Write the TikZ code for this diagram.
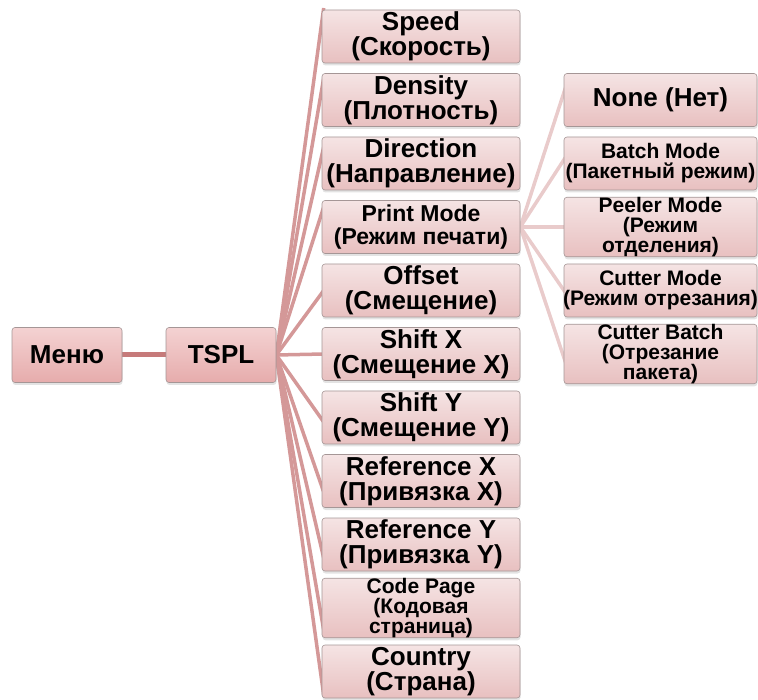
\documentclass[tikz,border=0pt]{standalone}
\usepackage{fontspec}
\setmainfont{Liberation Sans}
\usetikzlibrary{shadows,calc}
\pgfdeclarelayer{bg}
\pgfsetlayers{bg,main}
\definecolor{edgeA}{RGB}{198,122,122}
\definecolor{edgeB}{RGB}{212,152,152}
\definecolor{edgeC}{RGB}{233,203,203}
\definecolor{boxtop}{RGB}{245,228,228}
\definecolor{boxbot}{RGB}{232,192,192}
\definecolor{menutop}{RGB}{244,210,210}
\definecolor{menubot}{RGB}{230,172,172}
\definecolor{boxline}{RGB}{165,150,150}
\newcommand{\ml}[1]{\makebox[0pt]{#1}}
\newcommand{\fbig}{\fontsize{26}{25}\selectfont\bfseries}
\newcommand{\fmid}{\fontsize{23}{23}\selectfont\bfseries}
\newcommand{\fsml}{\fontsize{21}{20}\selectfont\bfseries}
\begin{document}
\begin{tikzpicture}[x=1pt,y=-1pt,
  box/.style={draw=boxline, line width=0.6pt, rounded corners=3pt,
    top color=boxtop, bottom color=boxbot, minimum height=53pt,
    inner sep=0pt, align=center,
    drop shadow={opacity=0.22,shadow xshift=0.5pt,shadow yshift=-2.5pt}},
  rootbox/.style={box, top color=menutop, bottom color=menubot, minimum width=110pt, minimum height=55pt},
  midbox/.style={box, minimum width=198pt},
  rightbox/.style={box, minimum width=193pt},
  link/.style={draw=edgeA, line width=5pt},
  fan/.style={draw=edgeB, line width=3.5pt},
  subfan/.style={draw=edgeC, line width=3.5pt}]
\useasboundingbox (0,0) rectangle (758,700);

\node[rootbox,font=\fbig] (menu) at (67,355) {Меню};
\node[rootbox,font=\fbig] (tspl) at (221,355) {TSPL};

\node[midbox,font=\fbig] (speed) at (421,36.5) {\ml{Speed}\\\ml{(Скорость)}};
\node[midbox,font=\fbig] (density) at (421,100) {\ml{Density}\\\ml{(Плотность)}};
\node[midbox,font=\fbig] (direction) at (421,163.5) {\ml{Direction}\\\ml{(Направление)}};
\node[midbox,font=\fmid] (printmode) at (421,227) {\ml{Print Mode}\\\ml{(Режим печати)}};
\node[midbox,font=\fbig] (offset) at (421,290.5) {\ml{Offset}\\\ml{(Смещение)}};
\node[midbox,font=\fbig] (shiftx) at (421,354) {\ml{Shift X}\\\ml{(Смещение X)}};
\node[midbox,font=\fbig] (shifty) at (421,417.5) {\ml{Shift Y}\\\ml{(Смещение Y)}};
\node[midbox,font=\fbig] (refx) at (421,481) {\ml{Reference X}\\\ml{(Привязка X)}};
\node[midbox,font=\fbig] (refy) at (421,544.5) {\ml{Reference Y}\\\ml{(Привязка Y)}};
\node[midbox,font=\fsml] (codepage) at (421,608) {\ml{Code Page}\\\ml{(Кодовая}\\\ml{страница)}};
\node[midbox,font=\fbig] (country) at (421,671.5) {\ml{Country}\\\ml{(Страна)}};

\node[rightbox,font=\fbig] (none) at (660.5,100) {\ml{None (Нет)}};
\node[rightbox,font=\fsml] (batch) at (660.5,163.5) {\ml{Batch Mode}\\\ml{(Пакетный режим)}};
\node[rightbox,font=\fsml] (peeler) at (660.5,227) {\ml{Peeler Mode}\\\ml{(Режим}\\\ml{отделения)}};
\node[rightbox,font=\fsml] (cuttermode) at (660.5,290.5) {\ml{Cutter Mode}\\\ml{(Режим отрезания)}};
\node[rightbox,font=\fsml] (cutterbatch) at (660.5,354) {\ml{Cutter Batch}\\\ml{(Отрезание}\\\ml{пакета)}};

\begin{pgfonlayer}{bg}
\draw[link] (menu.east) -- (tspl.west);
\draw[fan] (tspl.east) -- ($(speed.west)+(2,-28.5)$);
\draw[fan] (tspl.east) -- ($(density.west)+(2,-22)$);
\draw[fan] (tspl.east) -- ($(direction.west)+(2,-16.5)$);
\draw[fan] (tspl.east) -- ($(printmode.west)+(2,-20)$);
\draw[fan] (tspl.east) -- ($(offset.west)+(2,0)$);
\draw[fan] (tspl.east) -- ($(shiftx.west)+(2,0)$);
\draw[fan] (tspl.east) -- ($(shifty.west)+(2,4.5)$);
\draw[fan] (tspl.east) -- ($(refx.west)+(2,11)$);
\draw[fan] (tspl.east) -- ($(refy.west)+(2,13.5)$);
\draw[fan] (tspl.east) -- ($(codepage.west)+(2,22)$);
\draw[fan] (tspl.east) -- ($(country.west)+(2,23.5)$);
\draw[subfan] (printmode.east) -- ($(none.west)+(2,-13)$);
\draw[subfan] (printmode.east) -- ($(batch.west)+(2,-6.5)$);
\draw[subfan] (printmode.east) -- ($(peeler.west)+(2,0)$);
\draw[subfan] (printmode.east) -- ($(cuttermode.west)+(2,2.5)$);
\draw[subfan] (printmode.east) -- ($(cutterbatch.west)+(2,9)$);
\end{pgfonlayer}
\end{tikzpicture}
\end{document}
